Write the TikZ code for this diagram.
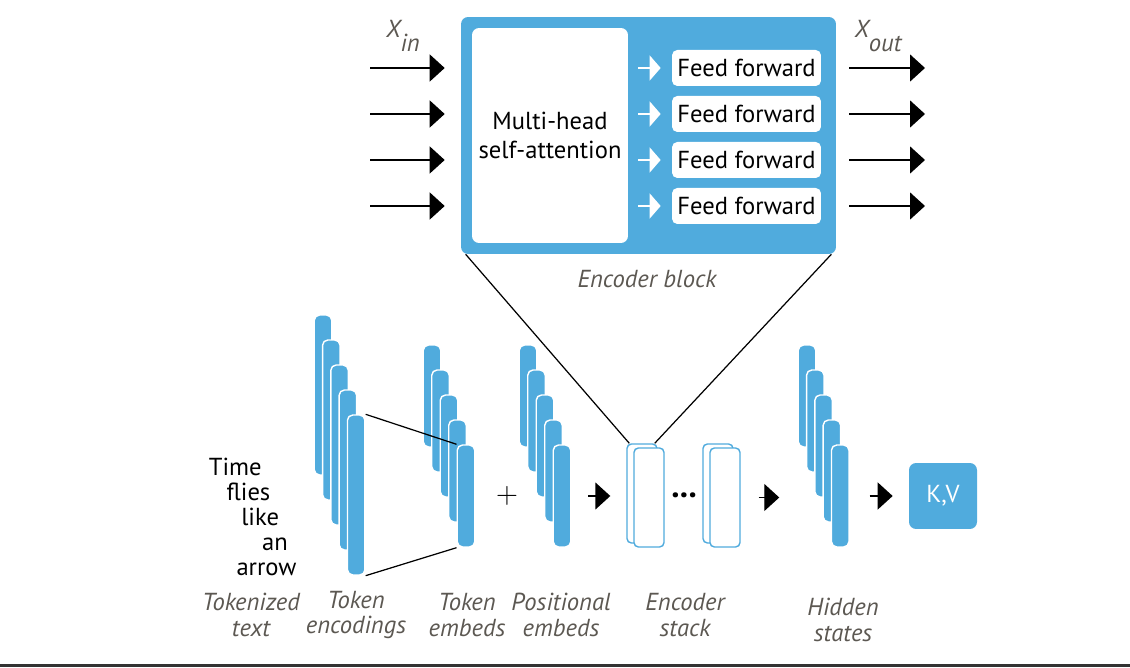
\documentclass[tikz,border=0pt]{standalone}
\usepackage{fontspec}
\setmainfont{PT Sans}
\usetikzlibrary{arrows.meta}
\definecolor{blockblue}{RGB}{80,171,221}
\definecolor{capgray}{RGB}{92,88,82}

\begin{document}
\begin{tikzpicture}[
  x=0.02cm, y=-0.02cm,
  every node/.style = {font=\fontsize{14}{16}\selectfont, inner sep=0pt},
  vecbar/.style = {fill=blockblue, draw=white, line width=0.8pt, rounded corners=3pt, minimum width=0.35cm},
  longbar/.style = {vecbar, minimum height=3.2cm},
  shortbar/.style = {vecbar, minimum height=2.04cm},
  ffbox/.style = {fill=white, rounded corners=3pt, minimum width=2.98cm, minimum height=0.72cm},
  stackbox/.style = {draw=blockblue, fill=white, line width=0.8pt, rounded corners=2.5pt, minimum width=0.6cm, minimum height=1.98cm},
  caption/.style = {font=\fontsize{14}{14.7}\selectfont\itshape, text=capgray, align=center},
  arr/.style = {-{Triangle[length=0.3cm, width=0.54cm]}, line width=0.8pt},
  warr/.style = {-{Triangle[length=0.22cm, width=0.5cm]}, white, line width=0.8pt}
]
\useasboundingbox (0,0) rectangle (1130,668);

% encoder block
\node[fill=blockblue, rounded corners=4pt, minimum width=7.5cm, minimum height=4.74cm] (block) at (648.5,135.5) {};
\node[fill=white, rounded corners=4pt, minimum width=3.12cm, minimum height=4.3cm, align=center] (mha) at (550,135.5) {Multi-head\\self-attention};
\foreach \i/\y in {1/68,2/114,3/160,4/206} {
  \node[ffbox] (ff\i) at (746.5,\y) {Feed forward};
  \coordinate (in\i) at (370,\y);
  \coordinate (out\i) at (925,\y);
  \draw[arr, shorten >=0.32cm] (in\i) -- (in\i -| block.west);
  \draw[arr, shorten <=0.26cm] (ff\i -| block.east) -- (out\i);
  \draw[warr, shorten <=0.2cm, shorten >=0.22cm] (ff\i -| mha.east) -- (ff\i.west);
}
\node[caption] (xin) at (403,36) {X\raisebox{-1.1ex}{in}};
\node[caption] (xout) at (878,36) {X\raisebox{-1.1ex}{out}};
\node[caption] (blocklabel) at (647,279) {Encoder block};

% input text
\foreach \w [count=\i from 0] in {Time,flies,like,an,arrow}
  \node[anchor=base east] (word\i) at (262+8.7*\i, 476+25*\i) {\w};

% vectors
\foreach \i in {0,...,4} {
  \node[longbar] (tokenc\i) at (323+8.3*\i, 395+25*\i) {};
}
\foreach \i in {0,...,4} {
  \node[shortbar] (tokemb\i) at (432+8.5*\i, 396+25*\i) {};
  \node[shortbar] (posemb\i) at (528+8.5*\i, 396+25*\i) {};
  \node[shortbar] (hidden\i) at (807+8.3*\i, 396+25*\i) {};
}
\draw[line width=0.7pt] (tokenc4.north east) -- (tokemb4.north west);
\draw[line width=0.7pt] (tokenc4.south east) -- (tokemb4.south west);
\node (plus) at (507,496) {\fontsize{17}{17}\selectfont$+$};

% encoder stack
\node[stackbox] (stackAback) at (642,493.5) {};
\node[stackbox] (stackA) at (649,497.5) {};
\node[stackbox] (stackBback) at (718,493.5) {};
\node[stackbox] (stackB) at (725,497.5) {};
\node (dots) at (684,495) {\fontsize{19}{19}\selectfont\textbf{...}};
\draw[line width=0.7pt] ([xshift=0.1cm]block.south west) -- ([xshift=0.06cm]stackAback.north west);
\draw[line width=0.7pt] ([xshift=-0.1cm]block.south east) -- ([xshift=-0.06cm]stackAback.north east);

\node[fill=blockblue, rounded corners=4pt, minimum width=1.36cm, minimum height=1.32cm, text=white] (kv) at (943,496) {K,V};
\draw[arr, shorten <=0.34cm, shorten >=0.32cm] (posemb4.east) -- (posemb4.east -| stackAback.west);
\draw[arr, shorten <=0.36cm, shorten >=1.03cm] (stackB.east) -- (stackB.east -| hidden4.west);
\draw[arr, shorten <=0.4cm, shorten >=0.32cm] (hidden4.east) -- (kv.west);

% captions
\node[caption] (capa) at (251,615) {Tokenized\\text};
\node[caption] (capb) at (356,615) {Token\\encodings};
\node[caption] (capc) at (467,615) {Token\\embeds};
\node[caption] (capd) at (561,615) {Positional\\embeds};
\node[caption] (cape) at (685,615) {Encoder\\stack};
\node[caption] (capf) at (843,620) {Hidden\\states};

\draw[line width=1.2pt, black!80] (0,665.5) -- (1130,665.5);
\end{tikzpicture}
\end{document}
